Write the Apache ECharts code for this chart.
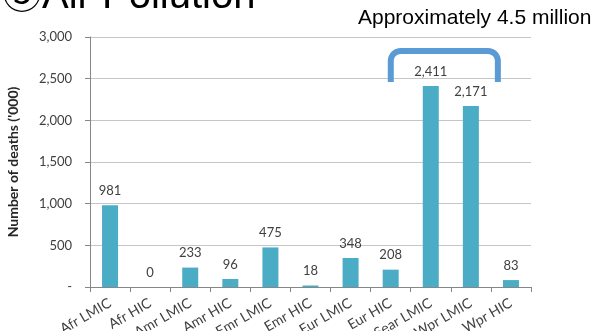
<!DOCTYPE html>
<html><head><meta charset="utf-8">
<script src="https://cdn.jsdelivr.net/npm/echarts@6/dist/echarts.min.js"></script>
<style>html,body{margin:0;padding:0;background:#fff}#c{width:596px;height:331px}</style>
</head><body><div id="c"></div>
<script>
var categories = ["Afr LMIC","Afr HIC","Amr LMIC","Amr HIC","Emr LMIC","Emr HIC","Eur LMIC","Eur HIC","Sear LMIC","Wpr LMIC","Wpr HIC"];
var deaths = [981, 0, 233, 96, 475, 18, 348, 208, 2411, 2171, 83];
var yTicks = [0, 500, 1000, 1500, 2000, 2500, 3000];
var yTickLabels = ["-", "500", "1,000", "1,500", "2,000", "2,500", "3,000"];
var titleText = "③Air Pollution";
var noteText = "Approximately 4.5 million";
var yAxisName = "Number of deaths ('000)";

var font = "Lato, 'Open Sans', sans-serif";
var chart = echarts.init(document.getElementById('c'), null, {renderer: 'canvas'});

function bracket(x1, x2, yTop, yBot, r) {
  var pts = [[x1, yBot], [x1, yTop + r]];
  var i, a;
  for (i = 1; i <= 8; i++) { a = Math.PI - i * Math.PI / 16; pts.push([x1 + r + r * Math.cos(a), yTop + r - r * Math.sin(a)]); }
  pts.push([x2 - r, yTop]);
  for (i = 1; i <= 8; i++) { a = Math.PI / 2 - i * Math.PI / 16; pts.push([x2 - r + r * Math.cos(a), yTop + r - r * Math.sin(a)]); }
  pts.push([x2, yBot]);
  return pts;
}

chart.setOption({
  animation: false,
  grid: {left: 90, right: 65, top: 37, bottom: 44, containLabel: false, outerBoundsMode: 'none'},
  xAxis: {
    type: 'category', data: categories,
    axisLine: {lineStyle: {color: '#868686', width: 1}},
    axisTick: {show: true, length: 5, lineStyle: {color: '#868686'}},
    axisLabel: {rotate: 30, margin: 15, fontSize: 14, color: '#404040', fontFamily: font, interval: 0}
  },
  yAxis: {
    type: 'value', min: 0, max: 3000, interval: 500,
    name: yAxisName, nameLocation: 'middle', nameGap: 70, nameRotate: 90,
    nameTextStyle: {fontSize: 14, fontWeight: 'bold', color: '#262626', fontFamily: font},
    axisLine: {show: true, lineStyle: {color: '#868686'}},
    axisTick: {show: true, length: 5, lineStyle: {color: '#868686'}},
    splitLine: {lineStyle: {color: '#c6c6c6'}},
    axisLabel: {margin: 18, fontSize: 13, color: '#404040', fontFamily: font,
      formatter: function (v) { var i = yTicks.indexOf(v); return i >= 0 ? yTickLabels[i] : v; }}
  },
  series: [{
    type: 'bar', data: deaths, barWidth: 16,
    itemStyle: {color: '#4BACC6'},
    label: {show: true, position: 'top', distance: 8, fontSize: 13, color: '#404040', fontFamily: font,
      formatter: function (p) { return p.value.toLocaleString('en-US'); }}
  }]
});

var xa = chart.convertToPixel({xAxisIndex: 0}, 8);
var xb = chart.convertToPixel({xAxisIndex: 0}, 9);
chart.setOption({
  graphic: [
    {type: 'text', left: 2, top: -23, style: {text: titleText, font: "40px 'Liberation Sans', 'Noto Sans CJK JP', sans-serif", fill: '#000'}},
    {type: 'text', left: 358, top: 8, style: {text: noteText, font: "21px 'Liberation Sans', Arial, sans-serif", fill: '#000'}},
    {type: 'polyline', z: 100, shape: {points: bracket(xa - 40, xb + 27, 51, 82, 10)},
      style: {stroke: '#5B9BD5', lineWidth: 6, fill: null, lineJoin: 'round'}}
  ]
});
</script></body></html>
